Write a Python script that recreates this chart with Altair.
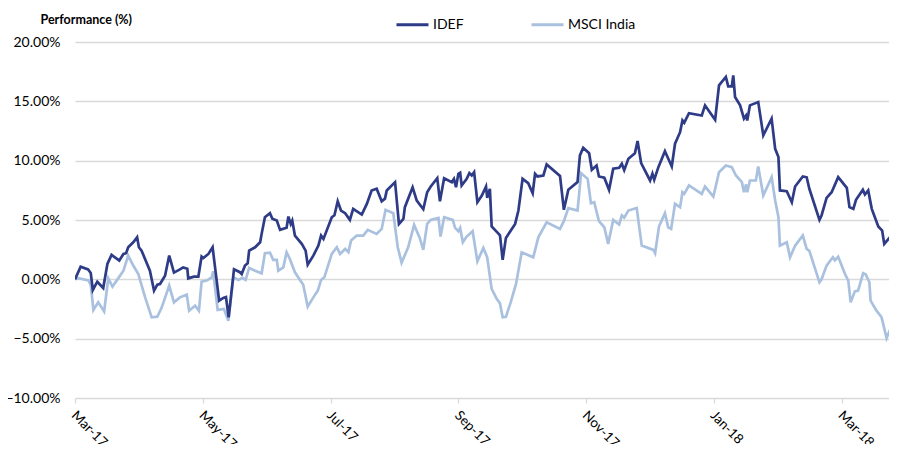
import altair as alt
import pandas as pd

# Trading-day index (0 = start of Mar-17) and performance in %
idef_day = [0.0, 1.9, 4.4, 5.3, 6.0, 7.5, 9.5, 10.9, 12.3, 14.9, 16.3, 17.2, 17.9, 19.6, 20.9, 21.5, 22.4, 25.2, 26.6, 27.7,
            28.6, 30.3, 31.7, 33.3, 35.3, 36.4, 37.8, 38.1, 40.0, 41.5, 42.6, 43.2, 44.9, 46.3, 48.5, 49.9, 50.8, 51.7, 53.5, 55.5,
            56.1, 57.2, 58.1, 58.6, 60.6, 62.3, 62.8, 63.9, 65.6, 66.4, 67.9, 69.0, 71.2, 71.8, 72.6, 73.1, 74.0, 76.3, 77.6, 78.3,
            80.2, 81.9, 82.8, 83.6, 86.4, 87.3, 88.4, 89.5, 90.9, 92.5, 93.6, 96.5, 98.2, 99.8, 101.5, 103.2, 104.3, 104.9, 107.7, 109.0,
            110.5, 111.0, 113.6, 115.0, 117.2, 118.5, 119.7, 121.9, 122.8, 124.2, 126.8, 127.5, 128.2, 129.0, 129.6, 130.1, 131.8, 132.7, 133.5, 134.3,
            135.4, 136.9, 138.3, 138.7, 139.6, 140.2, 142.4, 143.0, 143.9, 145.0, 148.1, 149.2, 150.6, 152.5, 154.0, 154.8, 155.6, 157.6, 158.7, 163.2,
            164.5, 166.0, 169.1, 169.9, 171.0, 173.0, 173.9, 175.5, 176.3, 178.1, 179.7, 181.1, 183.1, 184.0, 184.8, 186.2, 188.4, 189.3, 190.5, 193.5,
            194.3, 194.9, 196.3, 198.5, 199.9, 200.8, 201.9, 203.6, 204.4, 205.0, 206.6, 210.9, 212.0, 215.4, 216.7, 219.0, 219.8, 221.0, 221.5, 222.1,
            223.8, 225.1, 225.8, 226.2, 227.1, 229.9, 231.6, 234.4, 235.6, 236.7, 237.2, 239.5, 241.2, 242.3, 244.9, 246.2, 247.1, 250.5, 251.2, 252.9,
            254.6, 256.8, 259.7, 260.6, 261.9, 262.8, 265.1, 265.8, 266.9, 268.1, 270.3, 271.6, 272.3, 275.2, 275.9, 276.5]
idef_val = [0.00, 1.07, 0.84, 0.53, -0.90, -0.20, -0.73, 1.30, 2.06, 1.58, 2.14, 2.20, 2.70, 3.12, 3.54, 2.70, 2.42, 0.73, -0.95, -0.45,
            -0.39, 0.31, 2.00, 0.57, 0.84, 1.01, 0.90, 0.08, 0.23, 0.23, 1.92, 1.80, 2.14, 2.70, -1.80, -1.57, -1.50, -3.20, 0.84, 0.60,
            0.45, 1.16, 1.35, 2.42, 2.70, 3.12, 3.83, 5.23, 5.57, 5.10, 4.95, 4.17, 4.34, 5.29, 4.67, 4.95, 3.69, 2.99, 2.42, 1.24,
            2.00, 2.84, 3.69, 3.41, 5.23, 5.40, 6.58, 5.80, 5.57, 5.01, 5.94, 5.46, 6.36, 7.49, 7.63, 6.58, 6.80, 7.49, 8.19, 4.67,
            5.10, 6.08, 7.76, 6.64, 5.91, 7.34, 7.82, 8.52, 6.58, 8.52, 8.19, 8.47, 7.76, 8.89, 8.98, 7.91, 8.47, 8.95, 8.75, 9.03,
            6.50, 7.06, 7.82, 6.87, 7.63, 4.45, 3.88, 3.70, 1.64, 3.49, 4.67, 5.80, 8.47, 8.10, 7.26, 8.89, 8.67, 8.75, 9.68, 8.72,
            5.86, 7.55, 8.19, 10.44, 11.09, 10.63, 9.23, 9.59, 8.67, 8.56, 7.54, 9.32, 9.40, 9.74, 9.20, 10.16, 10.63, 11.65, 9.79, 8.33,
            8.90, 8.39, 9.45, 10.80, 10.02, 9.51, 11.43, 12.40, 13.39, 13.20, 14.00, 13.81, 14.66, 13.45, 16.35, 17.05, 16.26, 16.26, 17.19, 15.36,
            14.66, 13.54, 13.80, 13.39, 14.66, 14.94, 12.13, 13.54, 11.00, 10.30, 7.49, 7.43, 6.50, 7.82, 8.67, 8.60, 7.63, 5.01, 5.38, 6.87,
            7.34, 8.61, 7.71, 6.08, 5.94, 6.70, 7.54, 7.15, 7.49, 5.94, 4.45, 4.11, 2.99, 3.83, 5.38, 4.95]

msci_day = [0.0, 1.1, 4.5, 5.3, 6.2, 7.8, 9.8, 11.2, 12.6, 14.0, 16.3, 17.9, 19.6, 21.3, 23.6, 25.8, 27.7, 29.2, 31.7, 33.3,
            35.3, 37.6, 38.4, 40.4, 41.7, 42.6, 44.3, 46.0, 46.5, 48.0, 50.1, 51.6, 53.3, 55.0, 56.3, 57.4, 58.6, 60.6, 62.8, 63.9,
            65.6, 66.7, 67.9, 68.4, 70.1, 71.2, 72.3, 74.0, 75.7, 76.8, 78.3, 80.2, 81.7, 82.8, 83.9, 86.4, 88.1, 89.2, 90.9, 92.0,
            92.9, 94.8, 97.0, 98.5, 101.5, 103.2, 104.5, 107.1, 108.6, 109.9, 112.1, 114.1, 116.0, 117.2, 118.5, 119.7, 122.3, 123.0, 124.2, 127.1,
            127.9, 129.0, 129.6, 130.5, 131.8, 133.8, 135.4, 137.4, 138.7, 140.2, 141.9, 143.0, 143.9, 145.0, 146.6, 148.4, 150.3, 152.2, 154.2, 155.9,
            158.7, 163.2, 164.5, 166.0, 169.1, 170.3, 172.5, 173.6, 174.7, 176.3, 178.1, 179.4, 181.1, 183.1, 184.0, 184.8, 186.2, 189.0, 190.7, 194.6,
            195.2, 196.5, 198.5, 199.6, 200.6, 201.9, 203.6, 204.4, 205.0, 206.6, 210.9, 212.0, 214.8, 216.7, 219.0, 221.0, 222.4, 224.4, 225.1, 225.8,
            226.2, 227.1, 229.1, 229.9, 231.6, 234.4, 235.6, 236.7, 237.2, 239.5, 240.6, 242.3, 244.9, 246.2, 247.1, 250.5, 251.2, 252.9, 255.0, 255.7,
            256.8, 259.1, 260.2, 261.0, 262.4, 263.5, 265.2, 266.1, 267.3, 267.7, 269.7, 271.4, 273.1, 275.9, 276.5]
msci_val = [0.00, 0.10, -0.10, -0.45, -2.58, -1.94, -2.70, 0.08, -0.62, -0.11, 0.73, 2.00, 1.16, 0.45, -1.52, -3.20, -3.15, -2.36, -0.53, -1.94,
            -1.52, -1.29, -2.64, -2.22, -2.64, -0.20, -0.10, 0.17, 0.68, -2.58, -2.50, -3.49, 0.17, -0.05, 0.12, -0.05, 0.96, 0.73, 0.51, 2.20,
            2.25, 1.64, 1.64, 0.73, 1.01, 2.28, 1.72, 0.59, -0.05, -0.45, -2.30, -1.52, -0.95, -0.05, 0.17, 2.14, 2.70, 2.14, 2.56, 2.30,
            3.27, 3.69, 3.69, 4.17, 3.83, 4.25, 5.86, 5.57, 2.70, 1.40, 2.70, 4.59, 3.49, 2.48, 4.67, 5.01, 5.18, 3.60, 5.23, 5.01,
            4.34, 4.05, 4.34, 3.12, 3.60, 4.05, 1.52, 2.65, 1.86, -0.81, -1.65, -2.03, -3.20, -3.15, -1.94, -0.39, 2.28, 2.08, 1.86, 3.54,
            4.81, 4.25, 4.90, 6.00, 5.80, 8.95, 8.47, 6.41, 6.50, 4.90, 4.39, 2.99, 5.01, 4.62, 5.38, 5.20, 5.80, 6.02, 2.84, 2.48,
            2.20, 4.45, 5.57, 4.39, 4.25, 6.36, 6.08, 7.34, 7.20, 7.91, 7.20, 7.82, 6.98, 9.03, 9.59, 9.45, 8.75, 8.19, 7.34, 8.00,
            7.34, 8.33, 8.33, 9.51, 7.06, 8.61, 6.64, 5.23, 2.84, 3.12, 1.86, 2.84, 3.69, 2.56, 2.40, -0.25, 0.00, 1.16, 1.86, 1.60,
            1.91, 0.45, -0.11, -1.94, -1.01, -0.95, 0.51, 0.40, -0.25, -1.80, -2.64, -3.20, -4.95, -3.26, -3.76]

tick_days = [0, 43, 86, 129, 172, 215, 258]
tick_labels = ["Mar-17", "May-17", "Jul-17", "Sep-17", "Nov-17", "Jan-18", "Mar-18"]
y_ticks = [-0.10, -0.05, 0.0, 0.05, 0.10, 0.15, 0.20]
series_names = ["IDEF", "MSCI India"]
series_colors = ["#2E3B86", "#A9C1DF"]

df = pd.concat([
    pd.DataFrame({"day": msci_day, "perf": [v / 100 for v in msci_val], "series": "MSCI India"}),
    pd.DataFrame({"day": idef_day, "perf": [v / 100 for v in idef_val], "series": "IDEF"}),
], ignore_index=True)

label_js = "[" + ",".join("'" + t + "'" for t in tick_labels) + "][round(datum.value / 43)]"
FONT = "Lato"

chart = alt.Chart(df).mark_line(strokeWidth=2.7, clip=True).encode(
    x=alt.X("day:Q",
            scale=alt.Scale(domain=[0, 273.9], nice=False, zero=False),
            axis=alt.Axis(values=tick_days, labelExpr=label_js, labelAngle=45,
                          labelAlign="left", labelBaseline="middle", labelOffset=-2,
                          labelPadding=10, grid=False, domain=False, ticks=True,
                          tickSize=5, tickColor="#D9D9D9", tickWidth=1.3,
                          labelFont=FONT, labelFontSize=13.5, labelColor="#000000",
                          title=None)),
    y=alt.Y("perf:Q",
            scale=alt.Scale(domain=[-0.10, 0.20], nice=False, zero=False),
            axis=alt.Axis(values=y_ticks, format=".2%", grid=True, gridColor="#D9D9D9",
                          gridWidth=1.3, domain=False, ticks=False, labelPadding=15,
                          labelFont=FONT, labelFontSize=14, labelColor="#000000",
                          title="Performance (%)", titleAngle=0, titleX=-35, titleY=-19,
                          titleAlign="left", titleBaseline="alphabetic", titleFont=FONT,
                          titleFontSize=12.5, titleFontWeight="bold", titleColor="#000000")),
    color=alt.Color("series:N",
                    scale=alt.Scale(domain=series_names, range=series_colors),
                    legend=alt.Legend(orient="none", legendX=320, legendY=-35,
                                      direction="horizontal", title=None,
                                      symbolType="stroke", symbolSize=1024,
                                      symbolStrokeWidth=3, labelFont=FONT,
                                      labelFontSize=14, labelColor="#000000",
                                      labelOffset=3, columnPadding=61, padding=0)),
).properties(
    width=814, height=356,
    padding={"left": 67, "top": 34, "right": 0, "bottom": 46},
    autosize=alt.AutoSizeParams(type="none"),
).configure_view(stroke=None)

chart.save("out.html", embed_options={"renderer": "svg", "actions": False})
